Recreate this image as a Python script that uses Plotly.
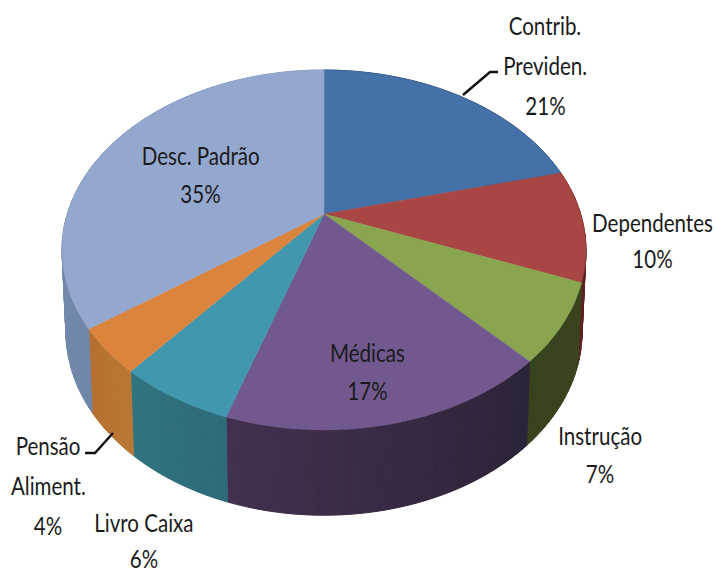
import math
import plotly.graph_objects as go

# ---- data ----
categories = ["Contrib. Previden.", "Dependentes", "Instrução", "Médicas", "Livro Caixa", "Pensão Aliment.", "Desc. Padrão"]
values = [21, 10, 7, 17, 6, 4, 35]

# ---- style ----
top_colors = ["#4471a7", "#a84644", "#8aa550", "#71598f", "#4097ae", "#db843d", "#94a7cf"]
side_start = ["#2d4a70", "#5e2222", "#37431d", "#2c2337", "#2f6a79", "#b87735", "#6f86a8"]
side_end = ["#2d4a70", "#5e2222", "#37431d", "#433050", "#30747f", "#b66f2e", "#8196b8"]
label_lines = [["Contrib.", "Previden."], ["Dependentes"], ["Instrução"], ["Médicas"], ["Livro Caixa"], ["Pensão", "Aliment."], ["Desc. Padrão"]]
label_x = [545, 652, 600, 367, 144, 48, 200]
label_y = [25, 222, 435, 352, 522, 445, 155]
line_gap = [40, 36, 38, 38, 36, 40, 38]
FONT = "Lato, Liberation Sans, sans-serif"
FONT_SIZE = 26
TEXT_SQUEEZE = 0.79

# projection of the pie disc on the page
CX, CY, A, B, K = 324, 214, 172.8, 256.7, 0.2
DEPTH, DEPTH_K, BOTTOM_SCALE = 81, 0.05, 0.985


def top_point(frac):
    ang = 2 * math.pi * frac
    x, y = math.sin(ang), math.cos(ang)
    w = 1 + K * y
    return CX + B * x / w, CY - A * y / w


def bottom_point(frac):
    px, py = top_point(frac)
    y = math.cos(2 * math.pi * frac)
    return CX + (px - CX) * BOTTOM_SCALE, py + DEPTH / (1 + DEPTH_K * y)


def mix(c1, c2, t):
    a = [int(c1[i:i + 2], 16) for i in (1, 3, 5)]
    b = [int(c2[i:i + 2], 16) for i in (1, 3, 5)]
    return "rgb(%d,%d,%d)" % tuple(round(p + (q - p) * t) for p, q in zip(a, b))


total = sum(values)
fig = go.Figure()

# side walls
cum = 0.0
spans = []
for v in values:
    spans.append((cum, cum + v / total))
    cum += v / total

for i, (s, e) in enumerate(spans):
    n = max(2, int((e - s) * 240))
    for j in range(n):
        f0 = s + (e - s) * j / n
        f1 = s + (e - s) * (j + 1) / n
        p = [top_point(f0), top_point(f1), bottom_point(f1), bottom_point(f0), top_point(f0)]
        col = mix(side_start[i], side_end[i], (j + 0.5) / n)
        fig.add_trace(go.Scatter(x=[q[0] for q in p], y=[q[1] for q in p], mode="lines", fill="toself",
                                 fillcolor=col, line=dict(color=col, width=1), hoverinfo="skip", showlegend=False))

# top faces
for i, (s, e) in enumerate(spans):
    n = max(4, int((e - s) * 240))
    rim = [top_point(s + (e - s) * j / n) for j in range(n + 1)]
    p = [(CX, CY)] + rim + [(CX, CY)]
    fig.add_trace(go.Scatter(x=[q[0] for q in p], y=[q[1] for q in p], mode="lines", fill="toself",
                             fillcolor=top_colors[i], line=dict(color=top_colors[i], width=0.5),
                             name=categories[i], hoverinfo="name", showlegend=False))

# labels
ann = []
for i, lines in enumerate(label_lines):
    rows = lines + ["%d%%" % values[i]]
    for r, txt in enumerate(rows):
        ann.append(dict(x=label_x[i], y=label_y[i] + r * line_gap[i], xref="x", yref="y", text=txt, showarrow=False,
                        xanchor="center", yanchor="middle", font=dict(family=FONT, size=FONT_SIZE, color="#1a1a1a")))

# leader lines
for xs, ys in [([463, 490, 498], [95, 72, 72]), ([113, 95, 85], [433, 453, 453])]:
    fig.add_trace(go.Scatter(x=xs, y=ys, mode="lines", line=dict(color="#111111", width=2.5),
                             hoverinfo="skip", showlegend=False))

fig.update_layout(width=715, height=573, margin=dict(l=0, r=0, t=0, b=0), paper_bgcolor="white", plot_bgcolor="white",
                  annotations=ann, showlegend=False,
                  xaxis=dict(range=[0, 715], visible=False, fixedrange=True),
                  yaxis=dict(range=[573, 0], visible=False, fixedrange=True))

post = """
document.body.style.margin = '0';
document.querySelectorAll('.annotation-text-g text, g.annotation text').forEach(function (t) {
  var b = t.getBBox(), c = b.x + b.width / 2, old = t.getAttribute('transform') || '';
  t.setAttribute('transform', old + ' translate(' + c + ',0) scale(%s,1) translate(' + (-c) + ',0)');
});
""" % TEXT_SQUEEZE
fig.write_html("out.html", config=dict(displayModeBar=False), post_script=post)
